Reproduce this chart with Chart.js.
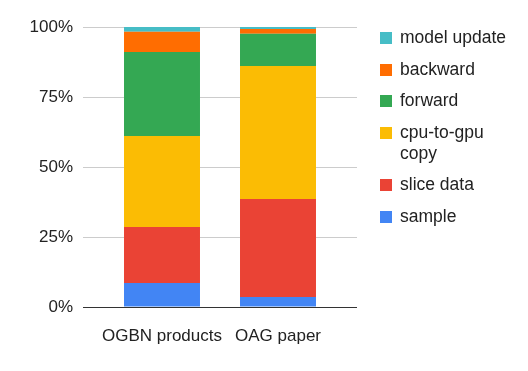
<!DOCTYPE html>
<html>
<head>
<meta charset="utf-8">
<script src="https://cdn.jsdelivr.net/npm/chart.js@4.4.1/dist/chart.umd.min.js"></script>
<style>
  html, body { margin: 0; padding: 0; background: #fff; }
  #wrap { position: relative; width: 528px; height: 371px; }
  #legend {
    position: absolute; left: 380px; top: 27px;
    font-family: Arial, "Liberation Sans", sans-serif; font-size: 17.5px; color: #222;
  }
  .item { position: relative; padding-left: 20px; line-height: 21px; margin-bottom: 10.5px; }
  .box { position: absolute; left: 0; top: 5px; width: 12px; height: 12px; }
</style>
</head>
<body>
<div id="wrap">
  <canvas id="chart" width="528" height="371"></canvas>
  <div id="legend"></div>
</div>
<script>
// =========================
// Data
// =========================
const categories = ["OGBN products", "OAG paper"];
const sample = [8.6, 3.6];
const sliceData = [20.0, 35.0];
const cpuToGpu = [32.5, 47.5];
const forward = [30.0, 11.5];
const backward = [7.2, 1.7];
const modelUpdate = [1.7, 0.7];
const yTicks = [0, 25, 50, 75, 100];

const FONT = 'Arial, "Liberation Sans", sans-serif';

const series = [
  { label: "sample", data: sample, color: "#4285F4" },
  { label: "slice data", data: sliceData, color: "#EA4335" },
  { label: ["cpu-to-gpu", "copy"], data: cpuToGpu, color: "#FBBC04" },
  { label: "forward", data: forward, color: "#34A853" },
  { label: "backward", data: backward, color: "#FF6D01" },
  { label: "model update", data: modelUpdate, color: "#46BDC6" },
];

const gridColor = (ctx) => (ctx.tick && ctx.tick.value === 0 ? "#333333" : "#cccccc");

// =========================
// Stacked bar chart
// =========================
const ctx = document.getElementById("chart").getContext("2d");
new Chart(ctx, {
  type: "bar",
  data: {
    labels: categories,
    datasets: series.map((s) => ({
      label: s.label,
      data: s.data,
      backgroundColor: s.color,
      borderWidth: 0,
      categoryPercentage: 1,
      barPercentage: 0.655,
    })),
  },
  options: {
    responsive: false,
    animation: false,
    layout: { padding: { top: 27, right: 171, bottom: 0, left: 0 } },
    plugins: {
      legend: { display: false },
      tooltip: { enabled: false },
    },
    scales: {
      x: {
        stacked: true,
        grid: { display: false },
        border: { display: false },
        ticks: {
          color: "#222",
          font: { family: FONT, size: 17 },
          padding: 11,
          maxRotation: 0,
          autoSkip: false,
        },
        afterFit: (scale) => { scale.height = 64; },
      },
      y: {
        stacked: true,
        min: 0,
        max: 100,
        afterBuildTicks: (scale) => { scale.ticks = yTicks.map((v) => ({ value: v })); },
        grid: { color: gridColor, tickLength: 21, tickColor: gridColor },
        border: { display: false },
        ticks: {
          color: "#222",
          font: { family: FONT, size: 17 },
          padding: 10,
          callback: (v) => v + "%",
        },
        afterFit: (scale) => { scale.width = 104; },
      },
      y2: {
        position: "right",
        min: 0,
        max: 100,
        afterBuildTicks: (scale) => { scale.ticks = yTicks.map((v) => ({ value: v })); },
        grid: { drawOnChartArea: false, color: gridColor, tickLength: 21, tickColor: gridColor },
        border: { display: false },
        ticks: { display: false },
        afterFit: (scale) => { scale.width = 21; },
      },
    },
  },
});

// =========================
// Legend (top item = top of stack)
// =========================
const legendEl = document.getElementById("legend");
series.slice().reverse().forEach((s) => {
  const item = document.createElement("div");
  item.className = "item";
  const text = Array.isArray(s.label) ? s.label.join("<br>") : s.label;
  item.innerHTML = `<span class="box" style="background:${s.color}"></span>${text}`;
  legendEl.appendChild(item);
});
</script>
</body>
</html>
